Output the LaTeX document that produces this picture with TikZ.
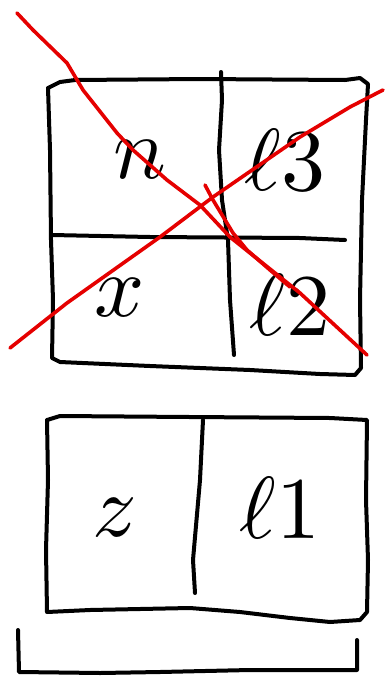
\documentclass[tikz,border=0pt]{standalone}
\usepackage{graphicx}
\usepackage{tikz}

\newcommand{\bigsym}[1]{\scalebox{8.8}{$#1$}}

\begin{document}
\begin{tikzpicture}[x=1pt,y=-1pt,
  pen/.style={black,line width=4pt,line cap=round,line join=round},
  redpen/.style={red!90!black,line width=3.6pt,line cap=round,line join=round},
  lbl/.style={inner sep=0pt}]
\useasboundingbox (0,0) rectangle (384,683);
% upper box
\draw[pen] (48,88) -- (60,82) -- (75,80) -- (200,79) -- (345,80) -- (360,78) -- (368,84) -- (366,120) -- (362,200) -- (360,300) -- (361,368) -- (355,375) -- (320,374) -- (250,370) -- (150,366) -- (60,362) -- (52,358) -- (53,300) -- (51,240) -- (50,150) -- (48,88);
\draw[pen] (221,72) -- (222,100) -- (219,150) -- (222,200) -- (228,240) -- (230,300) -- (234,355);
\draw[pen] (52,235) -- (150,237) -- (300,238) -- (345,240);
\node[lbl] (lblN) at (140,160) {\bigsym{n}};
\node[lbl] (lblLthree) at (285,160) {\bigsym{\ell 3}};
\node[lbl] (lblX) at (120,298) {\bigsym{x}};
\node[lbl] (lblLtwo) at (290,305) {\bigsym{\ell 2}};
% crossed out
\draw[redpen] (17,13) -- (33,30) -- (67,63) -- (83,90) -- (117,133) -- (133,150) -- (167,180) -- (200,205) -- (230,237) -- (300,293) -- (367,355);
\draw[redpen] (205,185) -- (213,200) -- (233,233) -- (247,250) -- (270,270) -- (290,287);
\draw[redpen] (10,348) -- (67,303) -- (160,237) -- (213,197) -- (300,137) -- (350,107) -- (383,90);
% lower box
\draw[pen] (47,420) -- (60,416) -- (190,417) -- (330,418) -- (367,420) -- (366,500) -- (368,560) -- (367,612) -- (360,620) -- (330,622) -- (290,618) -- (240,612) -- (190,608) -- (90,610) -- (47,612) -- (46,550) -- (48,480) -- (47,420);
\draw[pen] (203,420) -- (200,480) -- (193,560) -- (195,593);
\node[lbl] (lblZ) at (115,518) {\bigsym{z}};
\node[lbl] (lblLone) at (280,508) {\bigsym{\ell 1}};
% bracket
\draw[pen] (18,630) -- (19,672) -- (100,673) -- (160,672) -- (250,670) -- (357,670) -- (357,640);
\end{tikzpicture}
\end{document}
